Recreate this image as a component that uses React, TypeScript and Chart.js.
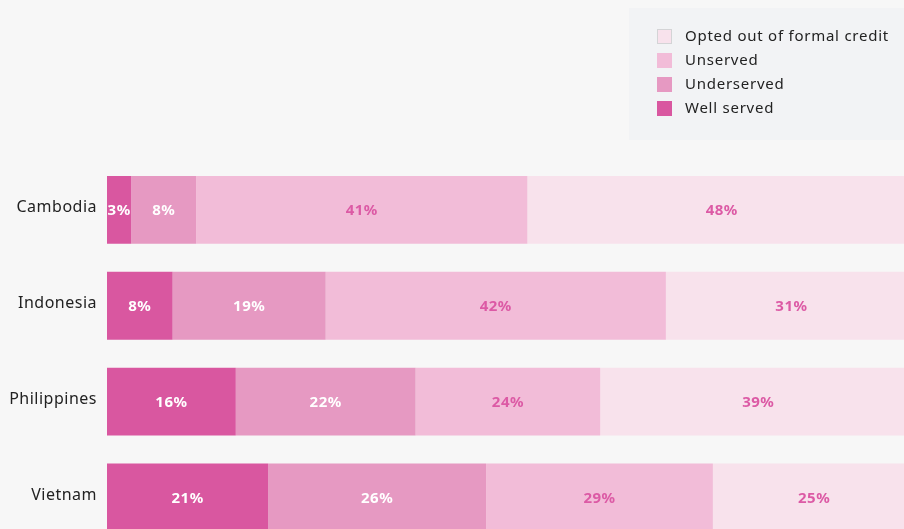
import React, { useEffect, useRef } from "react";
import { Chart, registerables } from "chart.js";

Chart.register(...registerables);

const countries = ["Cambodia", "Indonesia", "Philippines", "Vietnam"];
const seriesNames = ["Well served", "Underserved", "Unserved", "Opted out of formal credit"];

const wellServed = [3.0, 8.1, 15.9, 19.9];
const underserved = [8.0, 18.9, 22.2, 26.9];
const unserved = [40.9, 42.0, 22.8, 28.0];
const optedOut = [48, 31, 39, 25];

const wellServedLabels = ["3%", "8%", "16%", "21%"];
const underservedLabels = ["8%", "19%", "22%", "26%"];
const unservedLabels = ["41%", "42%", "24%", "29%"];
const optedOutLabels = ["48%", "31%", "39%", "25%"];

const colors = ["#d957a0", "#e699c2", "#f2bcd8", "#f8e2ec"];
const labelColors = ["#ffffff", "#ffffff", "#dc5aa5", "#dc5aa5"];
const FONT = "'Noto Sans', 'Open Sans', sans-serif";

const spacingPlugin = {
  id: "spacing",
  beforeDraw(chart: any) {
    (chart.ctx as any).letterSpacing = "0.5px";
  },
};

const valueLabelPlugin = {
  id: "valueLabels",
  afterDatasetsDraw(chart: any) {
    const ctx = chart.ctx;
    ctx.save();
    ctx.font = `bold 15px ${FONT}`;
    (ctx as any).letterSpacing = "0.5px";
    ctx.textAlign = "center";
    ctx.textBaseline = "middle";
    chart.data.datasets.forEach((ds: any, di: number) => {
      const meta = chart.getDatasetMeta(di);
      meta.data.forEach((el: any, i: number) => {
        const cx = (el.x + el.base) / 2;
        ctx.fillStyle = labelColors[di];
        ctx.fillText(ds.valueLabels[i], cx, el.y + 1);
      });
    });
    ctx.restore();
  },
};

const legendPlugin = {
  id: "customLegend",
  afterDraw(chart: any) {
    const ctx = chart.ctx;
    ctx.save();
    ctx.fillStyle = "#f2f3f5";
    ctx.fillRect(629, 8, 290, 132);
    const items = chart.data.datasets.map((d: any, i: number) => ({ label: d.label, color: colors[i] })).reverse();
    ctx.font = `15px ${FONT}`;
    (ctx as any).letterSpacing = "0.75px";
    ctx.textAlign = "left";
    ctx.textBaseline = "middle";
    items.forEach((it: any, i: number) => {
      const cy = 36.5 + i * 24;
      ctx.fillStyle = it.color;
      ctx.fillRect(657, cy - 7.5, 15, 15);
      if (i === 0) {
        ctx.strokeStyle = "#d4d4d6";
        ctx.lineWidth = 1;
        ctx.strokeRect(657.5, cy - 7, 14, 14);
      }
      ctx.fillStyle = "#222222";
      ctx.fillText(it.label, 685, cy);
    });
    ctx.restore();
  },
};

export default function App() {
  const ref = useRef<HTMLCanvasElement | null>(null);

  useEffect(() => {
    document.body.style.margin = "0";
    document.body.style.background = "#f7f7f7";
    const canvas = ref.current;
    if (!canvas) return;
    const values = [wellServed, underserved, unserved, optedOut];
    const labels = [wellServedLabels, underservedLabels, unservedLabels, optedOutLabels];
    const chart = new Chart(canvas, {
      type: "bar",
      data: {
        labels: countries,
        datasets: seriesNames.map((name, i) => ({
          label: name,
          data: values[i],
          valueLabels: labels[i],
          backgroundColor: colors[i],
          borderWidth: 0,
          barPercentage: 1,
          categoryPercentage: 68 / 96,
        })) as any,
      },
      options: {
        indexAxis: "y",
        responsive: false,
        animation: false,
        layout: { padding: { top: 162, left: 0, right: 0, bottom: 0 } },
        plugins: {
          legend: { display: false },
          tooltip: { enabled: false },
        },
        scales: {
          x: { stacked: true, min: 0, max: 100, display: false },
          y: {
            stacked: true,
            grid: { display: false, drawTicks: false },
            border: { display: false },
            ticks: {
              color: "#222222",
              font: { family: FONT, size: 16 },
              padding: 10,
              labelOffset: -2,
            },
            afterFit: (s: any) => {
              s.width = 107;
            },
          },
        },
      },
      plugins: [spacingPlugin, valueLabelPlugin, legendPlugin],
    } as any);
    return () => chart.destroy();
  }, []);

  return (
    <div
      style={{
        position: "fixed",
        left: 0,
        top: 0,
        width: 904,
        height: 529,
        overflow: "hidden",
        background: "#f7f7f7",
      }}
    >
      <canvas ref={ref} width={917} height={565} style={{ display: "block" }} />
    </div>
  );
}
